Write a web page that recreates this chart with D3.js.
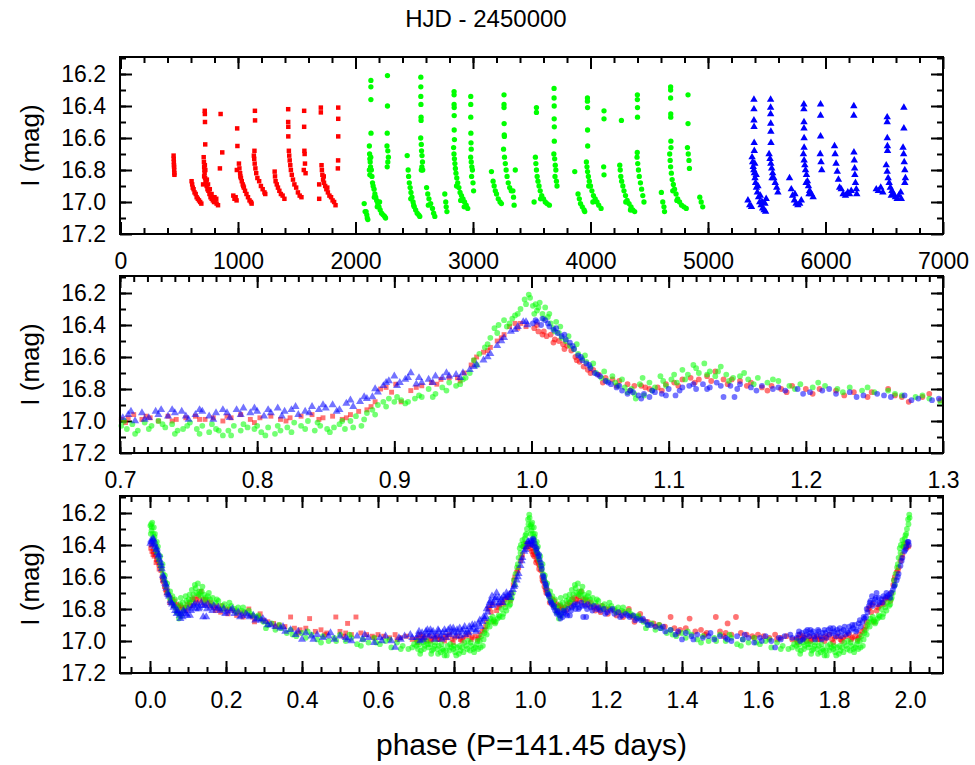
<!DOCTYPE html>
<html>
<head>
<meta charset="utf-8">
<script src="https://cdn.jsdelivr.net/npm/d3@7"></script>
<style>
  body { margin: 0; background: #fff; }
  svg { font-family: "Liberation Sans", Arial, sans-serif; }
</style>
</head>
<body>
<div id="chart"></div>
<script>

// ---- light curve, HJD - 2450000 vs I mag, one array per survey ----
var redTime = [
  [452,16.71],[453,16.73],[454,16.75],[455,16.77],[456,16.78],[457,16.80],[458,16.82],[459,16.83],
  [605,16.87],[610,16.89],[615,16.91],[622,16.92],[630,16.94],[640,16.95],[648,16.97],[658,16.98],[668,16.99],[678,17.00],[688,17.01],
  [717,16.43],[718,16.45],[719,16.50],[721,16.64],[703,16.89],
  [708,16.72],[710,16.75],[712,16.78],[714,16.80],[716,16.82],[720,16.85],[724,16.87],[728,16.88],[733,16.90],[740,16.92],
  [748,16.93],[757,16.95],[766,16.97],[776,16.98],[786,16.99],[796,17.00],[808,17.00],[818,17.01],[830,17.02],
  [712,16.84],[718,16.77],[722,16.80],[735,16.86],[745,16.89],[760,16.92],[775,16.95],[790,16.97],[800,16.97],[815,16.98],
  [852,16.45],[866,16.69],[846,16.79],
  [960,16.96],[970,16.98],[980,16.97],[988,16.99],[993,16.54],[995,16.65],[990,16.80],
  [1008,16.76],[1012,16.79],[1018,16.82],[1025,16.85],[1032,16.87],[1040,16.89],[1050,16.91],[1060,16.93],[1072,16.95],
  [1085,16.97],[1098,16.99],[1110,17.00],[1116,17.01],[1020,16.84],[1045,16.90],
  [1144,16.43],[1145,16.49],[1140,16.68],
  [1135,16.71],[1138,16.73],[1142,16.76],[1148,16.79],[1155,16.82],[1165,16.85],[1180,16.87],[1195,16.90],[1210,16.92],[1225,16.94],[1232,16.95],
  [1312,16.81],[1315,16.84],[1320,16.87],[1330,16.89],[1340,16.91],[1352,16.93],[1365,16.95],[1380,16.96],[1395,16.98],
  [1427,16.42],[1427,16.50],[1428,16.53],[1428,16.59],
  [1433,16.68],[1436,16.71],[1440,16.74],[1445,16.77],[1450,16.80],[1458,16.83],[1468,16.86],[1480,16.89],[1495,16.91],[1510,16.94],[1525,16.96],[1540,16.97],
  [1563,16.43],[1563,16.53],[1565,16.68],[1567,16.70],[1570,16.76],[1560,16.80],[1575,16.82],
  [1691,16.89],[1691,16.98],[1705,16.41],[1705,16.44],
  [1711,16.77],[1714,16.80],[1718,16.83],[1724,16.86],[1732,16.88],[1742,16.90],[1752,16.92],[1765,16.94],[1778,16.96],
  [1792,16.97],[1805,16.99],[1818,17.00],[1830,17.02],[1730,16.84],[1760,16.91],
  [1853,16.41],[1853,16.48],[1853,16.59],[1852,16.74],[1850,16.79]
];

var greenTime = [
  [2074,17.01],[2082,17.06],[2090,17.06],[2096,17.08],[2100,17.10],[2105,17.11],
  [2131,16.24],[2131,16.28],[2131,16.36],[2132,16.57],
  [2118,16.65],[2120,16.70],[2122,16.73],[2125,16.75],[2128,16.78],[2118,16.80],[2122,16.83],[2130,16.72],[2135,16.80],[2140,16.84],
  [2145,16.88],[2150,16.90],[2158,16.92],[2165,16.95],[2172,16.97],[2180,16.99],[2190,17.01],[2200,17.03],[2210,17.05],[2222,17.07],
  [2235,17.08],[2248,17.09],[2256,17.10],[2160,16.97],[2185,17.03],[2205,17.00],
  [2272,16.21],[2272,16.40],[2270,16.57],[2268,16.65],[2275,16.68],[2280,16.72],[2275,16.75],[2270,16.78],
  [2440,16.71],[2448,16.80],[2452,16.84],[2458,16.88],[2465,16.91],[2472,16.94],[2480,16.97],[2490,17.00],[2500,17.03],[2512,17.05],
  [2525,17.07],[2538,17.08],[2547,17.09],[2470,16.98],[2495,17.02],
  [2556,16.22],[2556,16.28],[2556,16.34],[2557,16.39],[2558,16.47],[2558,16.49],
  [2555,16.60],[2560,16.64],[2562,16.68],[2566,16.71],[2570,16.75],[2565,16.78],[2560,16.80],[2572,16.80],
  [2605,16.91],[2615,16.95],[2625,16.98],[2640,17.01],[2655,17.04],[2665,17.07],[2675,17.09],[2620,17.02],
  [2760,16.95],[2768,17.00],[2772,17.03],[2778,17.06],
  [2839,16.31],[2839,16.33],[2839,16.39],[2840,16.41],[2840,16.46],[2840,16.55],[2842,16.61],
  [2835,16.66],[2838,16.70],[2842,16.73],[2846,16.76],[2850,16.79],[2855,16.82],[2862,16.85],[2870,16.88],[2880,16.91],[2890,16.94],
  [2902,16.96],[2915,16.98],[2928,17.00],[2942,17.02],[2955,17.04],[2860,16.90],[2895,16.99],[2925,17.03],
  [2981,16.34],[2981,16.39],[2981,16.47],[2982,16.57],[2983,16.63],[2985,16.67],
  [2980,16.72],[2985,16.75],[2990,16.78],[2995,16.80],[2988,16.84],[3000,16.88],[3005,16.93],
  [3157,16.81],[3171,16.87],[3180,16.90],[3190,16.93],[3200,16.95],[3215,16.98],[3230,17.00],[3242,17.01],
  [3264,16.33],[3264,16.39],[3264,16.41],[3265,16.51],[3266,16.58],[3267,16.59],
  [3260,16.67],[3268,16.72],[3275,16.76],[3282,16.80],[3290,16.84],[3300,16.88],[3312,16.91],[3325,16.93],
  [3340,16.93],[3345,16.97],[3350,17.02],[3360,16.80],
  [3520,17.00],[3540,16.41],[3540,16.44],
  [3531,16.72],[3535,16.76],[3540,16.80],[3546,16.84],[3553,16.87],[3562,16.90],[3572,16.93],[3585,16.96],[3600,16.98],[3615,17.00],
  [3630,17.01],[3650,17.02],[3575,16.98],
  [3690,16.29],[3690,16.35],[3691,16.40],[3691,16.48],[3692,16.53],[3692,16.62],
  [3688,16.70],[3695,16.73],[3700,16.77],[3705,16.80],[3698,16.84],[3710,16.87],[3715,16.90],
  [3866,16.81],[3894,16.95],[3905,16.98],[3915,17.01],[3930,17.03],[3945,17.05],[3951,17.06],
  [3974,16.35],[3974,16.37],[3975,16.41],[3975,16.55],[3976,16.65],
  [3965,16.75],[3970,16.78],[3975,16.81],[3982,16.84],[3990,16.87],[4000,16.90],[4012,16.93],[4025,16.96],[4040,16.98],[4055,17.00],
  [4070,17.02],[4090,17.04],[3985,16.90],[4020,17.00],
  [4115,16.43],[4115,16.48],[4112,16.78],[4115,16.83],
  [4263,16.49],[4249,16.77],[4253,16.80],[4258,16.84],[4265,16.87],[4275,16.90],[4285,16.93],[4298,16.96],[4312,16.99],[4328,17.01],
  [4345,17.03],[4360,17.05],[4376,17.06],[4300,17.00],[4340,17.05],
  [4399,16.33],[4399,16.36],[4400,16.41],[4400,16.47],[4398,16.69],
  [4396,16.72],[4402,16.76],[4408,16.80],[4415,16.84],[4425,16.88],[4435,16.92],[4445,16.96],[4455,17.00],
  [4603,16.94],[4615,17.00],[4625,17.03],[4630,17.06],
  [4682,16.28],[4682,16.30],[4682,16.35],[4683,16.45],[4683,16.47],[4684,16.62],[4685,16.66],
  [4674,16.70],[4678,16.74],[4682,16.78],[4688,16.82],[4695,16.86],[4705,16.89],[4715,16.92],[4728,16.95],[4742,16.98],[4758,17.00],
  [4775,17.02],[4795,17.03],[4815,17.04],[4700,16.93],[4735,16.99],
  [4830,16.33],[4830,16.51],[4825,16.66],[4832,16.70],[4838,16.74],[4842,16.79],
  [4930,16.97],[4942,17.00],[4955,17.03]
];

var blueTime = [
  [5340,16.99],[5355,17.02],[5370,17.03],
  [5391,16.36],[5391,16.42],[5391,16.49],[5392,16.53],[5393,16.63],[5394,16.68],
  [5375,16.72],[5380,16.75],[5385,16.78],[5390,16.80],[5395,16.82],[5400,16.85],[5405,16.88],[5412,16.91],[5420,16.94],[5430,16.97],
  [5440,17.00],[5452,17.02],[5465,17.04],[5478,17.05],[5490,17.06],[5398,16.76],[5410,16.83],[5425,16.90],[5445,16.96],[5460,17.00],
  [5485,17.01],[5495,16.98],
  [5533,16.36],[5533,16.41],[5533,16.45],[5534,16.51],[5535,16.56],[5536,16.63],
  [5520,16.70],[5528,16.73],[5535,16.76],[5542,16.79],[5550,16.82],[5560,16.85],[5572,16.88],[5585,16.91],[5595,16.94],[5545,16.85],
  [5694,16.85],[5709,16.92],[5720,16.96],[5735,16.99],[5750,17.01],[5765,17.02],[5780,17.01],[5794,16.99],[5740,16.95],
  [5816,16.39],[5816,16.42],[5817,16.50],[5817,16.54],[5818,16.60],[5818,16.66],
  [5812,16.70],[5818,16.74],[5824,16.77],[5830,16.80],[5838,16.83],[5846,16.87],[5855,16.90],[5865,16.93],[5880,16.95],[5895,16.97],
  [5835,16.88],[5860,16.95],
  [5958,16.39],[5958,16.46],[5958,16.59],[5955,16.70],[5962,16.75],[5968,16.80],
  [6077,16.65],[6082,16.70],[6090,16.76],[6100,16.81],[6110,16.86],[6120,16.91],
  [6134,16.92],[6150,16.95],[6170,16.96],[6190,16.94],[6205,16.95],[6219,16.93],
  [6241,16.40],[6241,16.46],[6242,16.69],[6245,16.74],[6248,16.79],[6250,16.83],[6255,16.88],[6262,16.92],[6266,16.95],
  [6432,16.92],[6450,16.93],[6470,16.91],[6488,16.94],
  [6525,16.47],[6525,16.50],[6526,16.60],[6527,16.65],[6528,16.68],
  [6517,16.77],[6525,16.81],[6533,16.85],[6542,16.88],[6552,16.91],[6565,16.93],[6580,16.95],[6595,16.97],[6610,16.98],[6625,16.96],
  [6640,16.94],[6645,16.98],[6560,16.96],
  [6667,16.41],[6667,16.54],[6660,16.66],[6665,16.70],[6670,16.75],[6675,16.80],[6680,16.85],[6675,16.88]
];

// ---- folded light curve, phase (0..1) vs I mag ----
var redPhase = [
  [0.002,16.42],[0.005,16.44],[0.008,16.46],[0.011,16.47],[0.014,16.46],[0.017,16.49],[0.020,16.50],[0.023,16.52],[0.026,16.53],
  [0.029,16.56],[0.032,16.60],[0.035,16.63],[0.038,16.66],[0.041,16.68],[0.045,16.68],[0.049,16.71],[0.054,16.73],[0.059,16.74],
  [0.064,16.75],[0.070,16.77],[0.075,16.78],[0.080,16.78],[0.086,16.80],[0.092,16.79],[0.098,16.77],[0.104,16.76],[0.110,16.74],
  [0.116,16.73],[0.122,16.74],[0.128,16.72],[0.134,16.69],[0.140,16.74],[0.146,16.74],[0.152,16.75],[0.160,16.76],[0.168,16.79],
  [0.175,16.78],[0.182,16.80],[0.190,16.78],[0.200,16.80],[0.210,16.80],[0.222,16.81],[0.235,16.82],[0.248,16.82],[0.260,16.80],
  [0.270,16.85],[0.275,16.88],[0.285,16.85],[0.290,16.83],[0.298,16.87],
  [0.004,16.40],[0.009,16.44],[0.016,16.51],[0.024,16.55],[0.033,16.62],[0.043,16.70],[0.052,16.76],[0.062,16.78],[0.072,16.81],
  [0.083,16.79],[0.095,16.81],[0.107,16.78],[0.119,16.76],[0.131,16.75],[0.143,16.77],[0.157,16.78],[0.172,16.81],[0.186,16.82],
  [0.205,16.83],[0.228,16.84],[0.245,16.85],[0.265,16.84],
  [0.310,16.88],[0.325,16.89],[0.340,16.90],[0.355,16.91],[0.370,16.85],[0.380,16.92],[0.395,16.93],[0.410,16.92],[0.420,16.86],
  [0.435,16.94],[0.450,16.93],[0.465,16.95],[0.489,16.85],[0.500,16.94],[0.515,16.95],[0.520,16.89],[0.530,16.96],[0.542,16.85],
  [0.555,16.95],[0.570,16.96],[0.585,16.97],[0.600,16.96],[0.615,16.97],[0.630,16.98],[0.645,16.96],[0.660,16.98],[0.675,16.97],
  [0.690,16.99],[0.330,16.91],[0.390,16.95],[0.460,16.96],[0.510,16.97],[0.590,16.98],[0.650,16.99],
  [0.701,16.99],[0.706,16.98],[0.710,16.96],[0.716,16.99],[0.722,16.98],[0.728,17.00],[0.735,16.97],[0.741,16.99],[0.748,16.98],
  [0.755,16.97],[0.762,16.99],[0.768,16.98],[0.775,17.00],[0.781,16.98],[0.788,16.96],[0.795,16.99],[0.802,16.98],[0.810,16.97],
  [0.817,16.99],[0.824,16.98],[0.832,16.97],[0.840,16.96],[0.848,16.98],[0.855,16.97],[0.862,16.99],[0.868,16.96],[0.874,16.94],
  [0.880,16.93],[0.886,16.88],[0.890,16.80],[0.894,16.79],[0.898,16.82],[0.905,16.88],[0.912,16.81],[0.920,16.78],[0.927,16.76],
  [0.934,16.74],[0.940,16.73],[0.946,16.73],[0.951,16.70],[0.956,16.65],[0.960,16.60],[0.965,16.57],[0.970,16.54],[0.975,16.50],
  [0.980,16.46],[0.984,16.41],[0.988,16.39],[0.992,16.39],[0.996,16.41],
  [0.704,17.01],[0.719,16.97],[0.738,17.00],[0.758,16.99],[0.778,16.97],[0.798,17.01],[0.821,17.00],[0.845,16.99],[0.865,16.98],
  [0.883,16.91],[0.901,16.77],[0.916,16.79],[0.931,16.77],[0.948,16.75],[0.958,16.62],[0.968,16.56],[0.978,16.48],[0.990,16.42]
];

var greenPhase = [
  [0.001,16.28],[0.003,16.27],[0.004,16.31],[0.006,16.26],[0.008,16.33],[0.010,16.29],[0.012,16.35],[0.014,16.39],[0.016,16.42],
  [0.018,16.38],[0.020,16.45],[0.022,16.48],[0.025,16.50],[0.028,16.53],[0.031,16.55],[0.034,16.58],[0.037,16.61],[0.040,16.63],
  [0.043,16.66],[0.047,16.70],[0.051,16.73],[0.055,16.75],[0.059,16.72],[0.063,16.78],[0.066,16.74],[0.070,16.82],[0.073,16.80],
  [0.076,16.86],[0.079,16.77],[0.082,16.84],[0.086,16.76],[0.090,16.79],[0.094,16.72],[0.098,16.78],[0.102,16.74],[0.106,16.76],
  [0.110,16.68],[0.114,16.71],[0.118,16.65],[0.122,16.70],[0.126,16.64],[0.130,16.69],[0.134,16.72],[0.138,16.66],[0.142,16.71],
  [0.147,16.73],[0.152,16.72],[0.158,16.74],[0.165,16.73],[0.172,16.76],[0.180,16.75],[0.188,16.78],[0.196,16.77],[0.205,16.79],
  [0.214,16.78],[0.223,16.80],[0.232,16.79],[0.241,16.81],[0.250,16.82],[0.260,16.81],[0.270,16.84],[0.280,16.85],[0.290,16.86],
  [0.298,16.88],
  [0.002,16.33],[0.005,16.29],[0.009,16.36],[0.013,16.33],[0.017,16.44],[0.021,16.41],[0.027,16.47],[0.033,16.52],[0.039,16.59],
  [0.045,16.64],[0.053,16.69],[0.061,16.76],[0.068,16.79],[0.075,16.83],[0.081,16.73],[0.088,16.81],[0.096,16.75],[0.104,16.71],
  [0.112,16.74],[0.120,16.67],[0.128,16.71],[0.136,16.69],[0.144,16.75],[0.155,16.70],[0.162,16.77],[0.176,16.74],[0.192,16.80],
  [0.209,16.76],[0.227,16.82],[0.245,16.79],[0.265,16.83],[0.285,16.84],
  [0.310,16.90],[0.320,16.89],[0.330,16.93],[0.345,16.92],[0.360,16.95],[0.370,16.93],[0.385,16.97],[0.400,16.95],[0.410,16.98],
  [0.425,16.96],[0.440,16.99],[0.455,16.97],[0.470,17.00],[0.485,16.98],[0.500,16.96],[0.515,17.00],[0.530,16.98],[0.545,17.02],
  [0.560,16.99],[0.575,17.01],[0.590,16.98],[0.605,17.02],[0.620,17.00],[0.635,17.04],[0.650,17.01],[0.665,17.03],[0.680,17.05],
  [0.695,17.02],
  [0.305,16.92],[0.340,16.90],[0.375,16.96],[0.415,16.94],[0.450,17.01],[0.490,17.00],[0.525,16.96],[0.555,17.03],[0.595,17.01],
  [0.630,16.99],[0.660,17.05],[0.690,17.04],
  [0.701,17.03],[0.705,17.05],[0.709,17.02],[0.713,17.06],[0.718,17.01],[0.723,17.03],[0.728,17.00],[0.733,17.04],[0.738,17.02],
  [0.742,17.06],[0.746,17.05],[0.751,17.01],[0.756,17.05],[0.760,17.03],[0.765,17.07],[0.770,17.05],[0.775,17.09],[0.779,17.06],
  [0.783,17.03],[0.788,17.06],[0.793,17.04],[0.798,17.05],[0.803,17.07],[0.808,17.04],[0.813,17.08],[0.817,17.06],[0.822,17.04],
  [0.827,17.01],[0.832,17.03],[0.837,17.00],[0.842,17.06],[0.846,17.03],[0.851,17.05],[0.856,17.04],[0.860,17.02],[0.864,17.05],
  [0.868,17.00],[0.872,16.97],[0.876,17.03],[0.880,16.95],[0.884,16.93],[0.888,16.90],[0.892,16.88],[0.896,16.86],[0.900,16.88],
  [0.905,16.87],[0.910,16.88],[0.915,16.86],[0.920,16.85],[0.925,16.80],[0.930,16.83],[0.935,16.79],[0.940,16.76],[0.945,16.78],
  [0.950,16.74],[0.955,16.70],[0.958,16.62],[0.962,16.58],[0.966,16.54],[0.970,16.48],[0.973,16.42],[0.976,16.40],[0.980,16.37],
  [0.984,16.39],[0.988,16.34],[0.992,16.30],[0.995,16.24],[0.998,16.21],
  [0.703,17.00],[0.711,17.08],[0.721,17.05],[0.731,17.02],[0.740,17.08],[0.749,17.03],[0.758,17.08],[0.767,17.02],[0.772,17.06],
  [0.781,17.09],[0.790,17.02],[0.800,17.03],[0.806,17.09],[0.815,17.03],[0.825,17.07],[0.835,17.05],[0.844,17.01],[0.853,17.07],
  [0.862,17.00],[0.870,17.04],[0.878,16.99],[0.886,16.96],[0.894,16.91],[0.902,16.85],[0.908,16.89],[0.918,16.84],[0.928,16.85],
  [0.938,16.81],[0.948,16.77],[0.952,16.73],[0.960,16.65],[0.968,16.52],[0.975,16.45],[0.982,16.41],[0.986,16.36],[0.990,16.33],
  [0.996,16.27],[0.999,16.23]
];

var bluePhase = [
  [0.001,16.39],[0.004,16.38],[0.007,16.40],[0.010,16.37],[0.013,16.41],[0.016,16.43],[0.019,16.45],[0.022,16.47],[0.025,16.49],
  [0.028,16.51],[0.031,16.55],[0.034,16.59],[0.037,16.62],[0.040,16.64],[0.043,16.67],[0.046,16.70],[0.050,16.72],[0.054,16.75],
  [0.058,16.77],[0.062,16.79],[0.066,16.81],[0.070,16.83],[0.074,16.82],[0.078,16.84],[0.082,16.83],[0.086,16.85],[0.090,16.82],
  [0.095,16.83],[0.100,16.80],[0.105,16.84],[0.110,16.79],[0.115,16.78],[0.120,16.80],[0.125,16.77],[0.130,16.79],[0.135,16.76],
  [0.140,16.85],[0.145,16.78],[0.148,16.85],[0.152,16.77],[0.160,16.79],[0.168,16.78],[0.176,16.80],[0.185,16.81],[0.194,16.80],
  [0.203,16.82],[0.212,16.81],[0.222,16.83],[0.232,16.82],[0.242,16.84],[0.252,16.83],[0.262,16.85],[0.272,16.84],[0.282,16.86],
  [0.292,16.87],
  [0.003,16.37],[0.008,16.36],[0.012,16.39],[0.018,16.42],[0.024,16.46],[0.030,16.53],[0.036,16.60],[0.042,16.65],[0.048,16.71],
  [0.056,16.76],[0.064,16.78],[0.072,16.81],[0.080,16.86],[0.088,16.81],[0.098,16.84],[0.108,16.81],[0.118,16.77],[0.128,16.80],
  [0.138,16.78],[0.150,16.80],[0.164,16.81],[0.180,16.79],[0.198,16.83],[0.217,16.80],[0.237,16.85],[0.257,16.84],[0.277,16.87],
  [0.297,16.86],
  [0.305,16.88],[0.318,16.90],[0.330,16.91],[0.343,16.92],[0.356,16.94],[0.370,16.93],[0.383,16.96],[0.400,16.99],[0.410,16.95],
  [0.425,16.97],[0.440,16.96],[0.455,16.98],[0.470,16.97],[0.485,16.99],[0.500,16.97],[0.515,16.98],[0.530,17.00],[0.545,16.97],
  [0.560,16.99],[0.575,16.98],[0.590,17.01],[0.605,16.98],[0.620,16.97],[0.635,17.00],[0.645,17.04],[0.655,16.98],[0.670,16.97],
  [0.685,16.96],
  [0.310,16.90],[0.350,16.91],[0.390,16.94],[0.430,16.99],[0.475,16.95],[0.520,16.99],[0.565,16.96],[0.610,17.00],[0.660,16.99],
  [0.690,16.98],
  [0.702,16.98],[0.706,16.96],[0.711,17.00],[0.716,16.95],[0.721,16.98],[0.726,16.94],[0.730,16.93],[0.735,16.97],[0.740,16.95],
  [0.745,16.94],[0.750,16.99],[0.755,16.96],[0.760,16.94],[0.765,16.97],[0.770,16.95],[0.775,16.93],[0.780,16.98],[0.785,16.93],
  [0.790,16.92],[0.795,16.95],[0.800,16.94],[0.805,16.97],[0.810,16.95],[0.815,16.92],[0.820,16.94],[0.825,16.93],[0.830,16.96],
  [0.835,16.94],[0.840,16.91],[0.845,16.93],[0.850,16.92],[0.855,16.90],[0.860,16.93],[0.865,16.89],[0.870,16.91],[0.875,16.88],
  [0.880,16.86],[0.884,16.85],[0.888,16.82],[0.892,16.78],[0.896,16.75],[0.900,16.72],[0.904,16.76],[0.908,16.74],[0.912,16.70],
  [0.916,16.77],[0.920,16.76],[0.925,16.74],[0.930,16.72],[0.935,16.73],[0.940,16.72],[0.945,16.71],[0.950,16.70],[0.955,16.68],
  [0.960,16.65],[0.965,16.62],[0.970,16.58],[0.975,16.53],[0.980,16.48],[0.985,16.44],[0.990,16.41],[0.994,16.38],[0.997,16.40],
  [0.708,16.94],[0.718,16.99],[0.728,16.96],[0.738,16.93],[0.748,16.97],[0.758,16.93],[0.768,16.99],[0.778,16.95],[0.788,16.96],
  [0.798,16.92],[0.808,16.93],[0.818,16.97],[0.828,16.91],[0.838,16.95],[0.848,16.90],[0.858,16.94],[0.868,16.87],[0.878,16.85],
  [0.886,16.80],[0.894,16.76],[0.902,16.78],[0.910,16.73],[0.918,16.73],[0.928,16.76],[0.938,16.70],[0.948,16.73],[0.958,16.66],
  [0.968,16.60],[0.978,16.50],[0.988,16.43],[0.996,16.38]
];

// ---- axis tick labels ----
var magTicks = [16.2, 16.4, 16.6, 16.8, 17.0, 17.2];
var hjdTicks = [0, 1000, 2000, 3000, 4000, 5000, 6000, 7000];
var zoomTicks = [0.7, 0.8, 0.9, 1.0, 1.1, 1.2, 1.3];
var phaseTicks = [0.0, 0.2, 0.4, 0.6, 0.8, 1.0, 1.2, 1.4, 1.6, 1.8, 2.0];

var width = 975;
var height = 765;
var left = 120;
var right = 943;
var panelHeight = 177;
var majorLen = 12;
var minorLen = 6;

var svg = d3.select('#chart').append('svg')
    .attr('width', width)
    .attr('height', height);

var series = [
  { name: 'red',   color: '#ff0000', type: d3.symbolSquare,   size: 20, sizePhase: 24, time: redTime,   phase: redPhase },
  { name: 'green', color: '#00ff00', type: d3.symbolCircle,   size: 22, sizePhase: 26, time: greenTime, phase: greenPhase },
  { name: 'blue',  color: '#0000ff', type: d3.symbolTriangle, size: 24, sizePhase: 28, time: blueTime,  phase: bluePhase }
];

function drawFrame(top, x, xTicks, xMinorStep, xFormat) {
  var y = d3.scaleLinear()
      .domain([17.2, 16.2 - 17 / 160])
      .range([top + panelHeight, top]);

  var g = svg.append('g');

  var xMinor = d3.range(Math.ceil(x.domain()[0] / xMinorStep) * xMinorStep, x.domain()[1], xMinorStep);
  var yMinor = d3.range(16.1, 17.2, 0.1);

  // bottom axis, labelled
  g.append('g')
      .attr('class', 'axis')
      .attr('transform', 'translate(0,' + (top + panelHeight) + ')')
      .call(d3.axisBottom(x).tickValues(xTicks).tickSize(-majorLen).tickPadding(19).tickFormat(xFormat));
  g.append('g')
      .attr('class', 'axis')
      .attr('transform', 'translate(0,' + (top + panelHeight) + ')')
      .call(d3.axisBottom(x).tickValues(xMinor).tickSize(-minorLen).tickFormat(''));
  // top axis, ticks only
  g.append('g')
      .attr('class', 'axis')
      .attr('transform', 'translate(0,' + top + ')')
      .call(d3.axisTop(x).tickValues(xTicks).tickSize(-majorLen).tickFormat(''));
  g.append('g')
      .attr('class', 'axis')
      .attr('transform', 'translate(0,' + top + ')')
      .call(d3.axisTop(x).tickValues(xMinor).tickSize(-minorLen).tickFormat(''));
  // left axis, labelled
  g.append('g')
      .attr('class', 'axis')
      .attr('transform', 'translate(' + left + ',0)')
      .call(d3.axisLeft(y).tickValues(magTicks).tickSize(-majorLen).tickPadding(14).tickFormat(d3.format('.1f')));
  g.append('g')
      .attr('class', 'axis')
      .attr('transform', 'translate(' + left + ',0)')
      .call(d3.axisLeft(y).tickValues(yMinor).tickSize(-minorLen).tickFormat(''));
  // right axis, ticks only
  g.append('g')
      .attr('class', 'axis')
      .attr('transform', 'translate(' + right + ',0)')
      .call(d3.axisRight(y).tickValues(magTicks).tickSize(-majorLen).tickFormat(''));
  g.append('g')
      .attr('class', 'axis')
      .attr('transform', 'translate(' + right + ',0)')
      .call(d3.axisRight(y).tickValues(yMinor).tickSize(-minorLen).tickFormat(''));

  g.selectAll('.axis .domain').remove();
  g.selectAll('.axis line').attr('stroke', '#000').attr('stroke-width', 2);
  g.selectAll('.axis text')
      .attr('fill', '#000')
      .style('font-size', '23px')
      .style('font-family', '"Liberation Sans", Arial, sans-serif');

  g.append('rect')
      .attr('x', left)
      .attr('y', top)
      .attr('width', right - left)
      .attr('height', panelHeight)
      .attr('fill', 'none')
      .attr('stroke', '#000')
      .attr('stroke-width', 2);

  svg.append('text')
      .attr('transform', 'translate(39,' + (top + panelHeight / 2) + ') rotate(-90)')
      .attr('text-anchor', 'middle')
      .style('font-size', '26px')
      .text('I (mag)');

  return { g: g, y: y };
}

function drawPoints(g, pts, x, y, type, size, color, opacity) {
  var sym = d3.symbol().type(type).size(size);
  g.append('g').selectAll('path')
      .data(pts)
      .enter().append('path')
      .attr('d', sym)
      .attr('transform', function(d) { return 'translate(' + x(d[0]) + ',' + y(d[1]) + ')'; })
      .attr('fill', color)
      .attr('fill-opacity', opacity);
}

// ---- panel 1: time series ----
var xTime = d3.scaleLinear().domain([0, 7000]).range([left + 0.5, right]);
var p1 = drawFrame(57, xTime, hjdTicks, 200, d3.format('d'));
var dots1 = p1.g.insert('g', 'rect');
series.forEach(function(s) {
  drawPoints(dots1, s.time, xTime, p1.y, s.type, s.size, s.color, 1);
});

// ---- panel 2: zoom on the maximum ----
var xZoom = d3.scaleLinear().domain([0.7, 1.3]).range([left, right]);
var p2 = drawFrame(276, xZoom, zoomTicks, 0.01, d3.format('.1f'));
var dots2 = p2.g.insert('g', 'rect');
series.forEach(function(s) {
  var own = s.phase.filter(function(d) { return d[0] >= 0.7; });
  var next = s.phase.filter(function(d) { return d[0] + 1 <= 1.3; })
      .map(function(d) { return [d[0] + 1, d[1]]; });
  drawPoints(dots2, own, xZoom, p2.y, s.type, s.sizePhase, s.color, 0.55);
  drawPoints(dots2, next, xZoom, p2.y, d3.symbolCircle, 26, s.color, 0.55);
});

// ---- panel 3: two full cycles ----
var xPhase = d3.scaleLinear().domain([-30 / 380, 793 / 380]).range([left, right]);
var p3 = drawFrame(496, xPhase, phaseTicks, 0.05, d3.format('.1f'));
var dots3 = p3.g.insert('g', 'rect');
series.forEach(function(s) {
  var next = s.phase.map(function(d) { return [d[0] + 1, d[1]]; });
  drawPoints(dots3, s.phase, xPhase, p3.y, s.type, s.sizePhase, s.color, 0.55);
  drawPoints(dots3, next, xPhase, p3.y, d3.symbolCircle, 26, s.color, 0.55);
});

// ---- titles ----
svg.append('text')
    .attr('x', 486)
    .attr('y', 27)
    .attr('text-anchor', 'middle')
    .style('font-size', '24px')
    .text('HJD - 2450000');

svg.append('text')
    .attr('x', (left + right) / 2)
    .attr('y', 755)
    .attr('text-anchor', 'middle')
    .style('font-size', '30px')
    .text('phase (P=141.45 days)');

</script>
</body>
</html>
